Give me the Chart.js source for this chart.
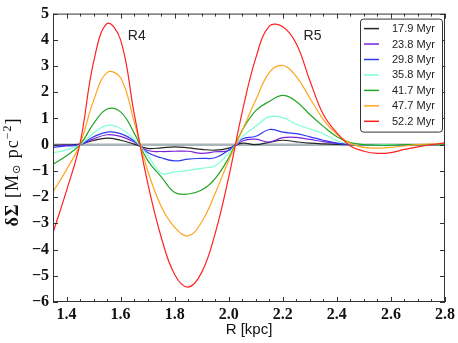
<!DOCTYPE html>
<html>
<head>
<meta charset="utf-8">
<script src="https://cdn.jsdelivr.net/npm/chart.js@4.4.1/dist/chart.umd.min.js"></script>
<style>
  html, body { margin: 0; padding: 0; background: #fff; }
</style>
</head>
<body>
<canvas id="myChart" width="458" height="343"></canvas>
<script>
// radius grid (kpc)
const radius = [1.35, 1.40, 1.45, 1.50, 1.55, 1.60, 1.65, 1.70, 1.75, 1.80,
                1.85, 1.90, 1.95, 2.00, 2.05, 2.10, 2.15, 2.20, 2.25, 2.30,
                2.35, 2.40, 2.45, 2.50, 2.55, 2.60, 2.65, 2.70, 2.75, 2.80];

const ages = ['17.9 Myr', '23.8 Myr', '29.8 Myr', '35.8 Myr', '41.7 Myr', '47.7 Myr', '52.2 Myr'];

const s179 = [-0.02, -0.01, 0.02, 0.16, 0.25, 0.17, 0.02, -0.14, -0.12, -0.08,
              -0.12, -0.18, -0.21, -0.13, 0.06, 0.0, 0.09, 0.17, 0.11, 0.06,
              0.03, 0.01, 0.0, 0.0, 0.0, 0.0, 0.0, 0.0, 0.0, 0.0];
const s238 = [-0.04, -0.02, 0.0, 0.22, 0.38, 0.32, 0.1, -0.22, -0.26, -0.25,
              -0.25, -0.33, -0.27, -0.22, 0.14, 0.21, 0.1, 0.27, 0.28, 0.2,
              0.12, 0.05, 0.01, 0.0, 0.0, 0.0, 0.0, 0.0, 0.0, 0.0];
const s298 = [-0.1, -0.05, 0.0, 0.3, 0.48, 0.42, 0.15, -0.3, -0.5, -0.62,
              -0.55, -0.52, -0.5, -0.2, 0.22, 0.32, 0.58, 0.48, 0.42, 0.3,
              0.17, 0.06, 0.0, 0.0, 0.0, 0.0, 0.0, 0.0, 0.0, 0.0];
const s358 = [-0.31, -0.2, 0.0, 0.45, 0.74, 0.62, 0.2, -0.4, -1.09, -1.04,
              -0.98, -0.9, -0.8, -0.32, 0.3, 0.7, 1.07, 1.03, 0.78, 0.6,
              0.42, 0.15, 0.03, 0.0, 0.0, 0.0, 0.0, 0.0, 0.0, 0.0];
const s417 = [-0.75, -0.42, 0.0, 0.8, 1.36, 1.25, 0.45, -0.6, -1.22, -1.82,
              -1.88, -1.73, -1.29, -0.5, 0.55, 1.3, 1.65, 1.88, 1.65, 1.15,
              0.7, 0.3, 0.08, 0.0, -0.02, -0.02, 0.0, 0.0, 0.0, 0.0];
const s477 = [-1.8, -0.95, 0.02, 1.68, 2.75, 2.55, 0.88, -0.98, -2.35, -3.15,
              -3.48, -2.95, -1.85, -0.6, 0.55, 1.7, 2.75, 3.02, 2.6, 1.78,
              0.96, 0.4, 0.05, -0.1, -0.13, -0.1, -0.05, 0.0, 0.03, 0.05];
const s522 = [-3.36, -1.75, 0.05, 3.15, 4.62, 4.0, 1.2, -1.45, -3.52, -4.95,
              -5.43, -4.87, -3.38, -1.24, 1.25, 3.3, 4.52, 4.5, 3.85, 2.45,
              1.15, 0.45, -0.05, -0.25, -0.33, -0.3, -0.18, -0.08, 0.0, 0.07];

const series = [s179, s238, s298, s358, s417, s477, s522];
const colors = ['#262626', '#7a22d8', '#2f3cf2', '#7dffd6', '#27a527', '#ffa41f', '#ff2222'];

const xTicks = [1.4, 1.6, 1.8, 2.0, 2.2, 2.4, 2.6, 2.8];
const yTicks = [-6, -5, -4, -3, -2, -1, 0, 1, 2, 3, 4, 5];

const notes = ['R4', 'R5'];
const noteR = [1.66, 2.31];
const noteY = [4.15, 4.15];

const ctx = document.getElementById('myChart');

const datasets = series.map((vals, i) => ({
  label: ages[i],
  data: vals.map((v, j) => ({x: radius[j], y: v})),
  borderColor: colors[i],
  borderWidth: 1.2,
  pointRadius: 0,
  tension: 0.4,
  order: series.length - i
}));
datasets.push({
  label: 'zero',
  data: [{x: radius[0], y: 0}, {x: radius[radius.length - 1], y: 0}],
  borderColor: '#a9b6ba',
  borderWidth: 2.5,
  pointRadius: 0,
  order: 20
});

const minus = v => (v < 0 ? '\u2212' + Math.abs(v) : '' + v);

const framePlugin = {
  id: 'frame',
  afterDraw(chart) {
    const c = chart.ctx;
    const a = chart.chartArea;
    const xs = chart.scales.x, ys = chart.scales.y;
    c.save();
    c.strokeStyle = '#333';
    c.lineWidth = 1;
    c.strokeRect(a.left + 0.5, a.top + 0.5, a.right - a.left - 1, a.bottom - a.top - 1);
    c.beginPath();
    for (let k = 0; ; k++) {
      const r = 1.35 + k * 0.05;
      if (r > 2.8001) break;
      const px = Math.round(xs.getPixelForValue(r)) + 0.5;
      const major = Math.abs(r * 5 - Math.round(r * 5)) < 1e-6;
      const len = major ? 5 : 3;
      c.moveTo(px, a.bottom); c.lineTo(px, a.bottom - len);
      c.moveTo(px, a.top); c.lineTo(px, a.top + len);
    }
    yTicks.forEach(t => {
      const py = Math.round(ys.getPixelForValue(t)) + 0.5;
      c.moveTo(a.left, py); c.lineTo(a.left + 5, py);
      c.moveTo(a.right, py); c.lineTo(a.right - 5, py);
    });
    c.stroke();

    // annotations
    c.fillStyle = '#222';
    c.font = '14px "Liberation Sans", Arial, sans-serif';
    c.textAlign = 'center';
    c.textBaseline = 'middle';
    notes.forEach((n, i) => {
      c.fillText(n, xs.getPixelForValue(noteR[i]), ys.getPixelForValue(noteY[i]));
    });

    // legend
    const lx = a.right - 85, ly = a.top + 5, lw = 82, lh = 113;
    c.beginPath();
    c.roundRect(lx + 0.5, ly + 0.5, lw, lh, 3);
    c.fillStyle = '#fff';
    c.fill();
    c.strokeStyle = '#333';
    c.stroke();
    c.font = '11px "Liberation Sans", Arial, sans-serif';
    c.textAlign = 'left';
    ages.forEach((lab, i) => {
      const y = ly + 10 + i * 15.45;
      c.beginPath();
      c.strokeStyle = colors[i];
      c.lineWidth = 1.5;
      c.moveTo(lx + 4, y); c.lineTo(lx + 19, y);
      c.stroke();
      c.fillStyle = '#222';
      c.fillText(lab, lx + 32, y + 0.5);
    });

    // y axis title
    c.translate(13, 172);
    c.rotate(-Math.PI / 2);
    c.letterSpacing = '1px';
    const parts = [
      {t: '\u03b4\u03a3', f: 'bold 18px "Liberation Serif", serif', dy: 0},
      {t: ' [M', f: '18px "Liberation Serif", serif', dy: 0},
      {t: '\u2299', f: '11px "DejaVu Sans", serif', dy: 4},
      {t: ' pc', f: '18px "Liberation Serif", serif', dy: 0},
      {t: '\u22122', f: '12px "Liberation Serif", serif', dy: -5},
      {t: ']', f: '18px "Liberation Serif", serif', dy: 0}
    ];
    let total = 0;
    parts.forEach(p => { c.font = p.f; p.w = c.measureText(p.t).width; total += p.w; });
    let x = -total / 2;
    c.fillStyle = '#111';
    parts.forEach(p => { c.font = p.f; c.fillText(p.t, x, p.dy); x += p.w; });
    c.restore();
  }
};

new Chart(ctx, {
  type: 'line',
  data: { datasets },
  options: {
    responsive: false,
    animation: false,
    layout: { padding: { top: 10, right: 13, left: 0, bottom: 0 } },
    plugins: { legend: { display: false }, tooltip: { enabled: false } },
    scales: {
      x: {
        type: 'linear',
        min: 1.35,
        max: 2.8,
        grid: { display: false, drawTicks: false },
        border: { display: false },
        afterBuildTicks(scale) { scale.ticks = xTicks.map(v => ({value: v})); },
        ticks: {
          padding: 3,
          color: '#111',
          font: { family: '"Liberation Serif", serif', size: 16, weight: 'bold' },
          callback: v => v.toFixed(1),
          maxRotation: 0,
          autoSkip: false
        },
        title: {
          display: true,
          text: 'R [kpc]',
          color: '#111',
          font: { family: '"Liberation Sans", Arial, sans-serif', size: 15 },
          padding: { top: 0, bottom: 4 }
        },
        afterFit(scale) { scale.height = 41; }
      },
      y: {
        min: -6,
        max: 5,
        grid: { display: false, drawTicks: false },
        border: { display: false },
        afterBuildTicks(scale) { scale.ticks = yTicks.map(v => ({value: v})); },
        ticks: {
          padding: 4,
          color: '#111',
          font: { family: '"Liberation Serif", serif', size: 16, weight: 'bold' },
          callback: v => minus(v),
          autoSkip: false
        },
        afterFit(scale) { scale.width = 53; }
      }
    }
  },
  plugins: [framePlugin]
});
</script>
</body>
</html>
